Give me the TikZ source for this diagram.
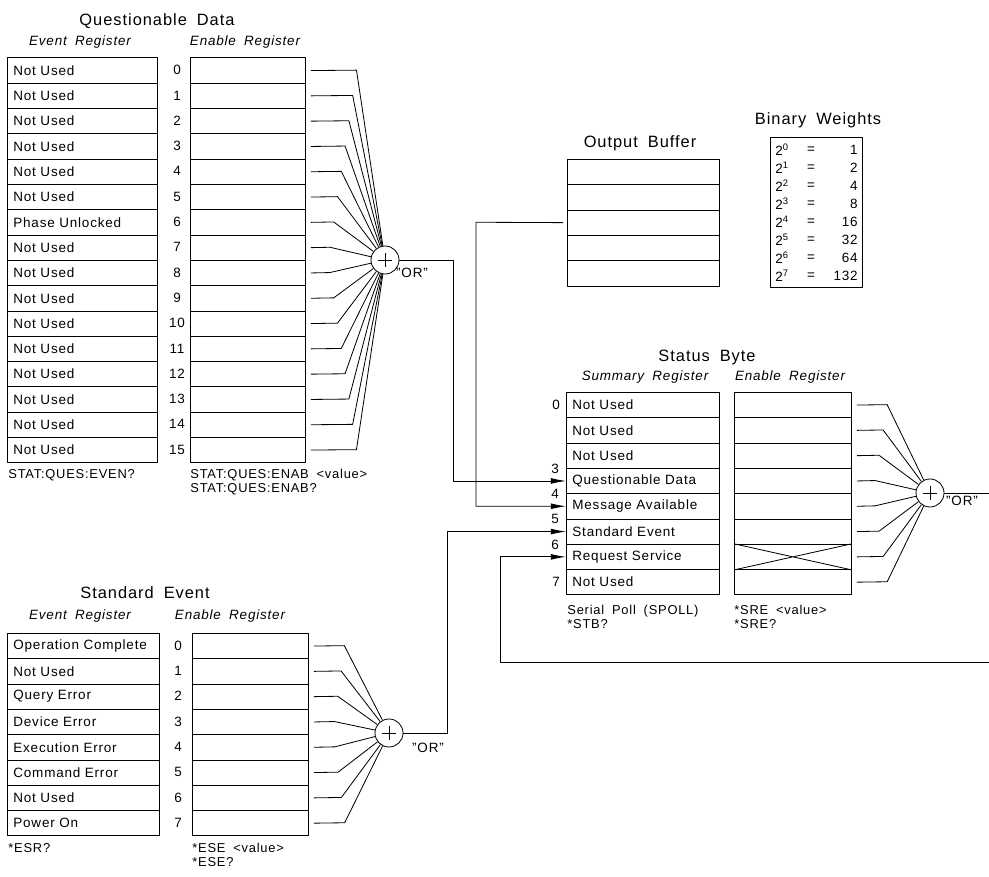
\documentclass[tikz,border=0pt]{standalone}
\usepackage{fontspec}
\setmainfont{Liberation Sans}[LetterSpace=6,WordSpace=1.8]
\usetikzlibrary{arrows.meta}
\newcommand{\regfont}{\fontsize{11.5}{13}\selectfont}
\newcommand{\ttlfont}{\fontsize{14}{16}\selectfont}
\newcommand{\cmdfont}{\fontsize{11}{11.5}\selectfont}
\newcommand{\bwfont}{\fontsize{11.5}{13}\selectfont}
\begin{document}
\begin{tikzpicture}[x=0.03cm,y=-0.03cm,line width=0.7pt,line join=round,>={Latex[length=13pt,width=5pt]},
	cell/.style={draw,anchor=north west,minimum height=0.759cm,inner xsep=0.18cm,inner ysep=0pt,align=left,font=\regfont},
	orgate/.style={circle,draw,fill=white,minimum size=0.84cm,inner sep=0pt,
		path picture={\draw ([xshift=-0.2cm]path picture bounding box.center) -- ([xshift=0.2cm]path picture bounding box.center)
			([yshift=-0.2cm]path picture bounding box.center) -- ([yshift=0.2cm]path picture bounding box.center);}},
	ttl/.style={font=\ttlfont},
	sub/.style={font=\regfont\itshape},
	bitno/.style={font=\regfont},
	cmd/.style={font=\cmdfont,anchor=north west,align=left,inner sep=0pt}]
\useasboundingbox (0,0) rectangle (989,877);
% Questionable Data
\node[ttl] (qtitle) at (157,21) {Questionable Data};
\node[sub] (qevsub) at (80,42) {Event Register};
\node[sub] (qensub) at (245,42) {Enable Register};
\foreach \i/\t in {0/Not Used,1/Not Used,2/Not Used,3/Not Used,4/Not Used,5/Not Used,6/Phase Unlocked,7/Not Used,
	8/Not Used,9/Not Used,10/Not Used,11/Not Used,12/Not Used,13/Not Used,14/Not Used,15/Not Used}{
	\node[cell,text width=4.14cm] (qe\i) at (7,57.5+25.3*\i) {\t};
	\node[bitno] (qb\i) at (177,70.15+25.3*\i) {\i};
	\node[cell,text width=3.09cm] (qn\i) at (190,57.5+25.3*\i) {};
}
\node[orgate] (qor) at (385,260) {};
\node[font=\regfont] (qortxt) at (412,273) {"OR"};
\foreach \i in {0,...,15}{
	\pgfmathsetmacro\ky{70.15+25.3*\i}
	\pgfmathsetmacro\kx{328+0.15*abs(\ky-260)}
	\draw ([xshift=0.15cm]qn\i.east) -- (\kx,\ky) -- (qor);
}
\node[cmd] (qevcmd) at (8,469) {STAT:QUES:EVEN?};
\node[cmd] (qencmd) at (190,469) {STAT:QUES:ENAB <value>\\STAT:QUES:ENAB?};

% Output Buffer
\node[ttl] (obtitle) at (640,143) {Output Buffer};
\foreach \i in {0,...,4}
	\node[cell,text width=4.2cm] (ob\i) at (567,159+25.3*\i) {};

% Binary Weights
\node[ttl] (bwtitle) at (818,120) {Binary Weights};
\node[draw,anchor=north west,minimum width=2.76cm,minimum height=4.5cm,inner sep=0pt] (bwbox) at (770,137) {};
\foreach \k/\v in {0/1,1/2,2/4,3/8,4/16,5/32,6/64,7/132}{
	\node[font=\bwfont,anchor=west,inner sep=0pt] (bwp\k) at (775,150+18*\k) {2\textsuperscript{\k}};
	\node[font=\bwfont,inner sep=0pt] (bwe\k) at (811,150+18*\k) {=};
	\node[font=\bwfont,anchor=east,inner sep=0pt] (bwv\k) at (858,150+18*\k) {\v};
}

% Status Byte
\node[ttl] (stitle) at (707,357) {Status Byte};
\node[sub] (ssumsub) at (645,377) {Summary Register};
\node[sub] (sensub) at (790,377) {Enable Register};
\foreach \i/\t in {0/Not Used,1/Not Used,2/Not Used,3/Questionable Data,4/Message Available,5/Standard Event,6/Request Service,7/Not Used}{
	\node[cell,text width=4.23cm] (sb\i) at (566,392+25.3*\i) {\t};
	\node[cell,text width=3.15cm] (sn\i) at (734,392+25.3*\i) {};
}
\draw (sn6.north west) -- (sn6.south east) (sn6.south west) -- (sn6.north east);
\node[bitno] (sbn0) at (556,405) {0};
\node[bitno] (sbn7) at (556,582) {7};
\foreach \i in {3,4,5,6}
	\node[bitno] (sbn\i) at (555,392.65+25.3*\i) {\i};
\node[orgate] (sor) at (930,493) {};
\node[font=\regfont] (sortxt) at (962,501) {"OR"};
\foreach \i in {0,...,7}{
	\pgfmathsetmacro\ky{404.65+25.3*\i}
	\pgfmathsetmacro\kx{873+0.16*abs(\ky-493)}
	\draw ([xshift=0.15cm]sn\i.east) -- (\kx,\ky) -- (sor);
}
\node[cmd] (sbcmd) at (567,605) {Serial Poll (SPOLL)\\*STB?};
\node[cmd] (sncmd) at (734,605) {*SRE <value>\\*SRE?};

% Standard Event
\node[ttl] (etitle) at (145,593) {Standard Event};
\node[sub] (eevsub) at (80,616) {Event Register};
\node[sub] (eensub) at (230,616) {Enable Register};
\foreach \i/\t in {0/Operation Complete,1/Not Used,2/Query Error,3/Device Error,4/Execution Error,5/Command Error,6/Not Used,7/Power On}{
	\node[cell,text width=4.2cm] (ee\i) at (7,633+25.3*\i) {\t};
	\node[bitno] (eb\i) at (178,645.65+25.3*\i) {\i};
	\node[cell,text width=3.12cm] (en\i) at (192,633+25.3*\i) {};
}
\node[orgate] (eor) at (389,733) {};
\node[font=\regfont] (eortxt) at (428,748) {"OR"};
\foreach \i in {0,...,7}{
	\pgfmathsetmacro\ky{645.65+25.3*\i}
	\pgfmathsetmacro\kx{333+0.13*abs(\ky-733)}
	\draw ([xshift=0.15cm]en\i.east) -- (\kx,\ky) -- (eor);
}
\node[cmd] (eevcmd) at (8,843) {*ESR?};
\node[cmd] (eencmd) at (192,843) {*ESE <value>\\*ESE?};

% summary connections
\coordinate (qbend) at (453,260);
\coordinate (mbend) at (476,222.25);
\coordinate (ebend) at (447,733);
\coordinate (fbtop) at (992,493);
\coordinate (fbbot) at (992,662);
\coordinate (fbleft) at (500,662);
\draw[->] (qor.east) -- (qbend) |- (sb3.west);
\draw[->,shorten <=0.12cm] (ob2.west) -- (mbend) |- (sb4.west);
\draw[->] (eor.east) -- (ebend) |- (sb5.west);
\draw[->] (sor.east) -- (fbtop) -- (fbbot) -- (fbleft) |- (sb6.west);
\end{tikzpicture}
\end{document}
